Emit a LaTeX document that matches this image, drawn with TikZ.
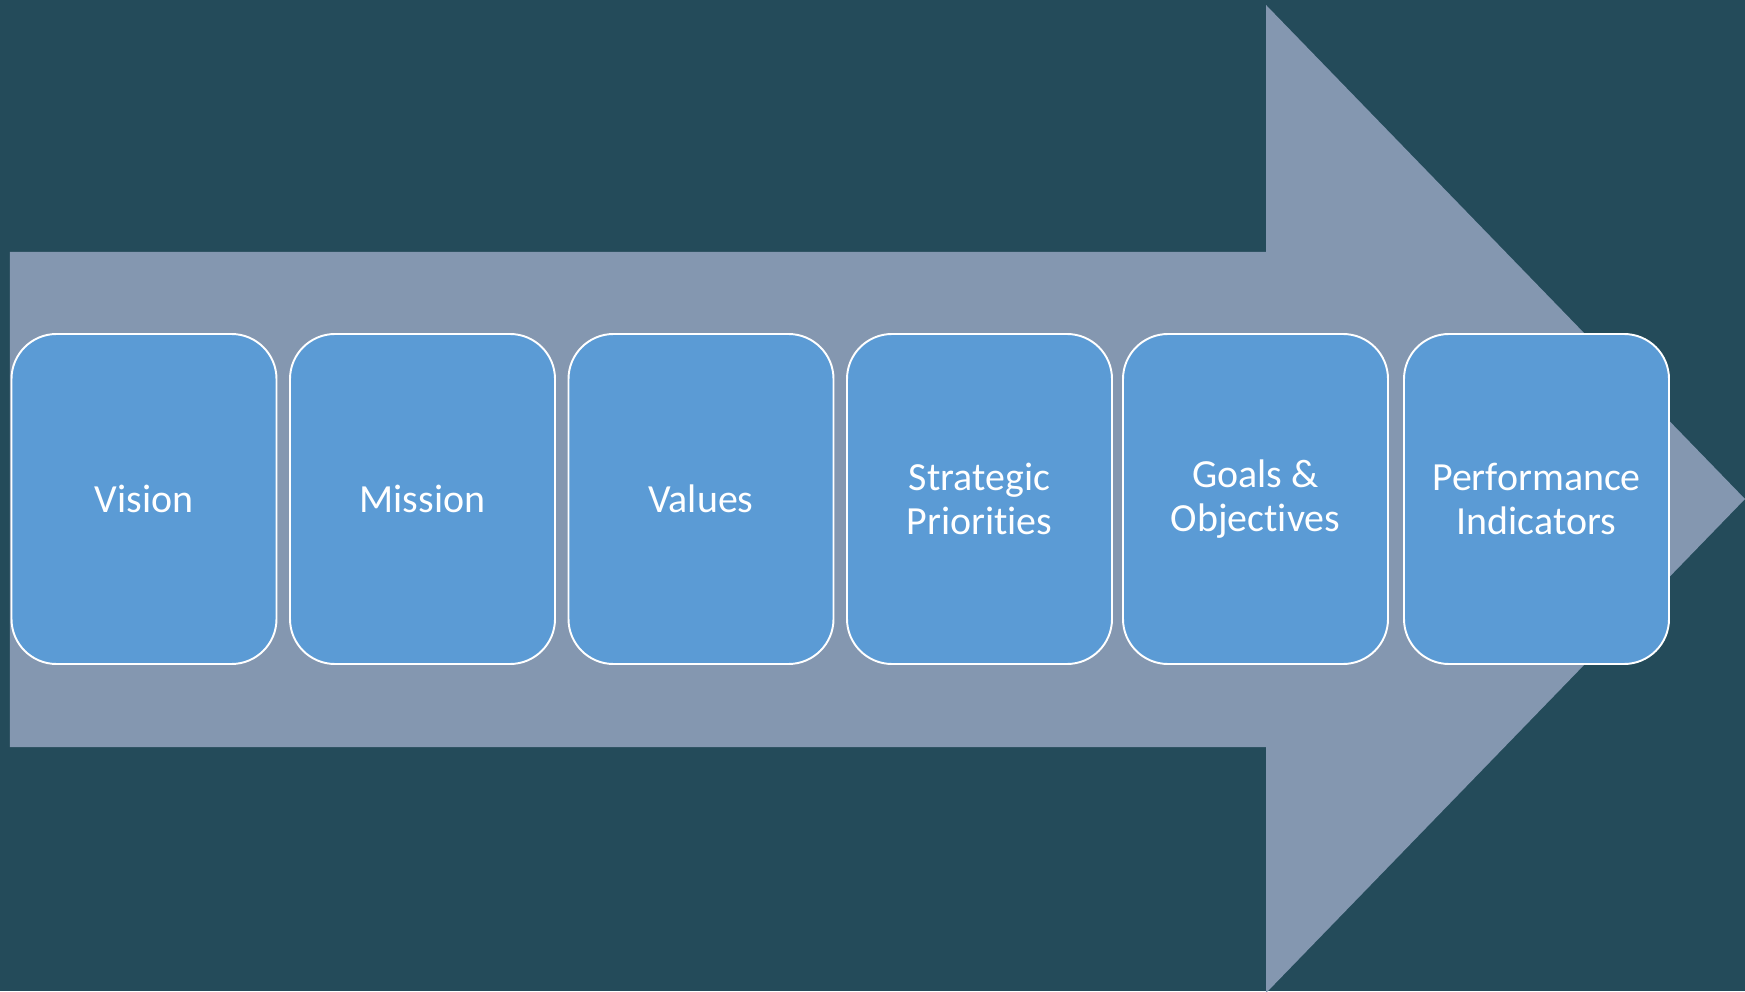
\documentclass[tikz,border=0pt]{standalone}
\usepackage{fontspec}
\setmainfont{Carlito}[Ligatures=NoCommon]
\usepackage{xcolor}
\usepackage{tikz}

\definecolor{bgteal}{RGB}{36,75,90}
\definecolor{arrowgray}{RGB}{132,151,176}
\definecolor{stepblue}{RGB}{91,155,213}

\begin{document}
\begin{tikzpicture}[
    stagebox/.style={draw=white, fill=stepblue, rounded corners=0.9cm, minimum width=5.3cm, minimum height=6.6cm, align=center, text=white, font=\fontsize{22.7}{25.2}\selectfont, line width=1.1pt, inner sep=0pt}
]
    % Background
    \useasboundingbox (0,0) rectangle (34.9,19.82);
    \fill[bgteal] (0,0) rectangle (34.9,19.82);
    \clip (0,0) rectangle (34.9,19.82);

    % Big arrow
    \fill[arrowgray] (0.2,14.78) -- (25.32,14.78) -- (25.32,19.72) -- (34.9,9.84)
        -- (25.32,-0.04) -- (25.32,4.88) -- (0.2,4.88) -- cycle;

    % Stages
    \node[stagebox] (vision) at (2.88, 9.84) {Vision};
    \node[stagebox] (mission) at (8.45, 9.84) {Mission};
    \node[stagebox] (values) at (14.02, 9.84) {Values};
    \node[stagebox] (priorities) at (19.59, 9.84) {Strategic\\Priorities};
    \node[stagebox] (goals) at (25.11, 9.84) {Goals \&\\Objectives};
    \node[stagebox] (indicators) at (30.73, 9.84) {Performance\\Indicators};
\end{tikzpicture}
\end{document}
